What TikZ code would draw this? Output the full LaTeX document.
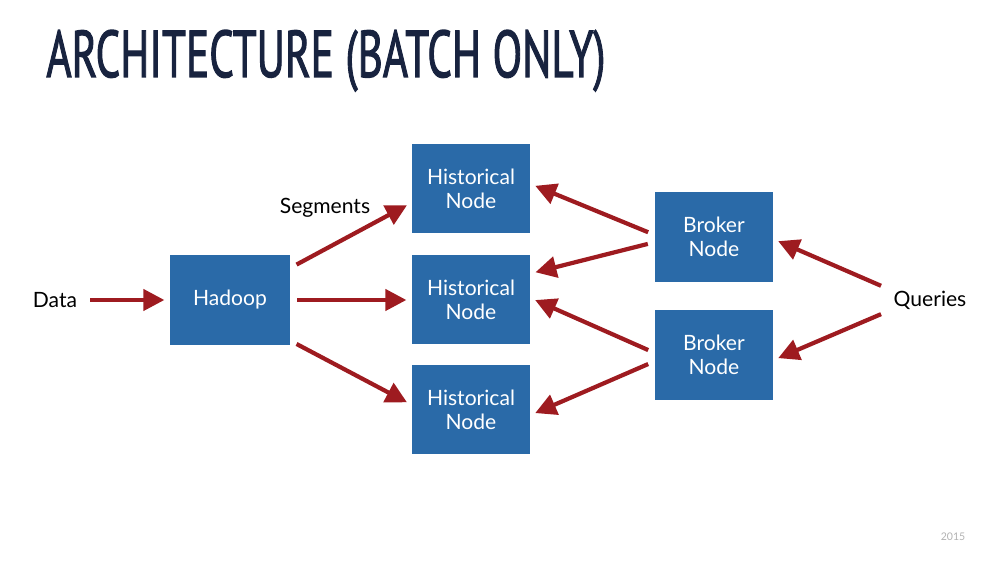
\documentclass[tikz,border=0pt]{standalone}
\usepackage{fontspec}
\setmainfont{Lato}
\newfontfamily\titlefont[FakeBold=2]{PT Sans}
\usetikzlibrary{arrows.meta}
\definecolor{boxblue}{RGB}{42,106,168}
\definecolor{arrowred}{RGB}{158,27,32}
\definecolor{titlenavy}{RGB}{24,35,63}

\begin{document}
\begin{tikzpicture}[
    box/.style={fill=boxblue,text=white,font=\fontsize{12}{14}\selectfont,align=center,minimum width=2.36cm,minimum height=1.78cm},
    lbl/.style={font=\fontsize{12}{14}\selectfont},
    flow/.style={arrowred,line width=2.4pt,-{Triangle[width=0.42cm,length=0.42cm]},shorten <=4pt,shorten >=3pt}]

    % Fix the page size
    \useasboundingbox (0,0) rectangle (20,11.26);

    % Title
    \node[anchor=base west,inner sep=0pt,text=titlenavy] (title) at (0.92,9.72) {\resizebox{11.18cm}{0.94cm}{\titlefont ARCHITECTURE (BATCH ONLY)}};

    % Boxes
    \node[box,minimum width=2.4cm,minimum height=1.8cm] (hadoop) at (4.6,5.26) {Hadoop};
    \node[box] (hist1) at (9.42,7.48) {Historical\\Node};
    \node[box] (hist2) at (9.42,5.26) {Historical\\Node};
    \node[box] (hist3) at (9.42,3.06) {Historical\\Node};
    \node[box,minimum height=1.8cm] (brok1) at (14.28,6.52) {Broker\\Node};
    \node[box,minimum height=1.8cm] (brok2) at (14.28,4.16) {Broker\\Node};

    % Labels
    \node[lbl] (data) at (1.1,5.26) {Data};
    \node[lbl] (segments) at (6.5,7.1) {Segments};
    \node[lbl] (queries) at (18.6,5.26) {Queries};
    \node[text=gray!60,font=\fontsize{6}{7}\selectfont] (year) at (19.06,0.52) {2015};

    % Arrows into Hadoop and out to the historical nodes
    \draw[flow] (data) -- (hadoop);
    \draw[flow] (hadoop.28) -- (hist1.193);
    \draw[flow] (hadoop) -- (hist2);
    \draw[flow] (hadoop.326) -- (hist3.175);

    % Arrows from the brokers to the historical nodes
    \draw[flow] (brok1.178) -- (hist1.5);
    \draw[flow] (brok1.185) -- (hist2.24);
    \draw[flow] (brok2.178) -- (hist2.2);
    \draw[flow] (brok2.186) -- (hist3.355);

    % Arrows from the queries to the brokers
    \draw[flow] (queries.165) -- (brok1.358);
    \draw[flow] (queries.195) -- (brok2.355);

\end{tikzpicture}
\end{document}
